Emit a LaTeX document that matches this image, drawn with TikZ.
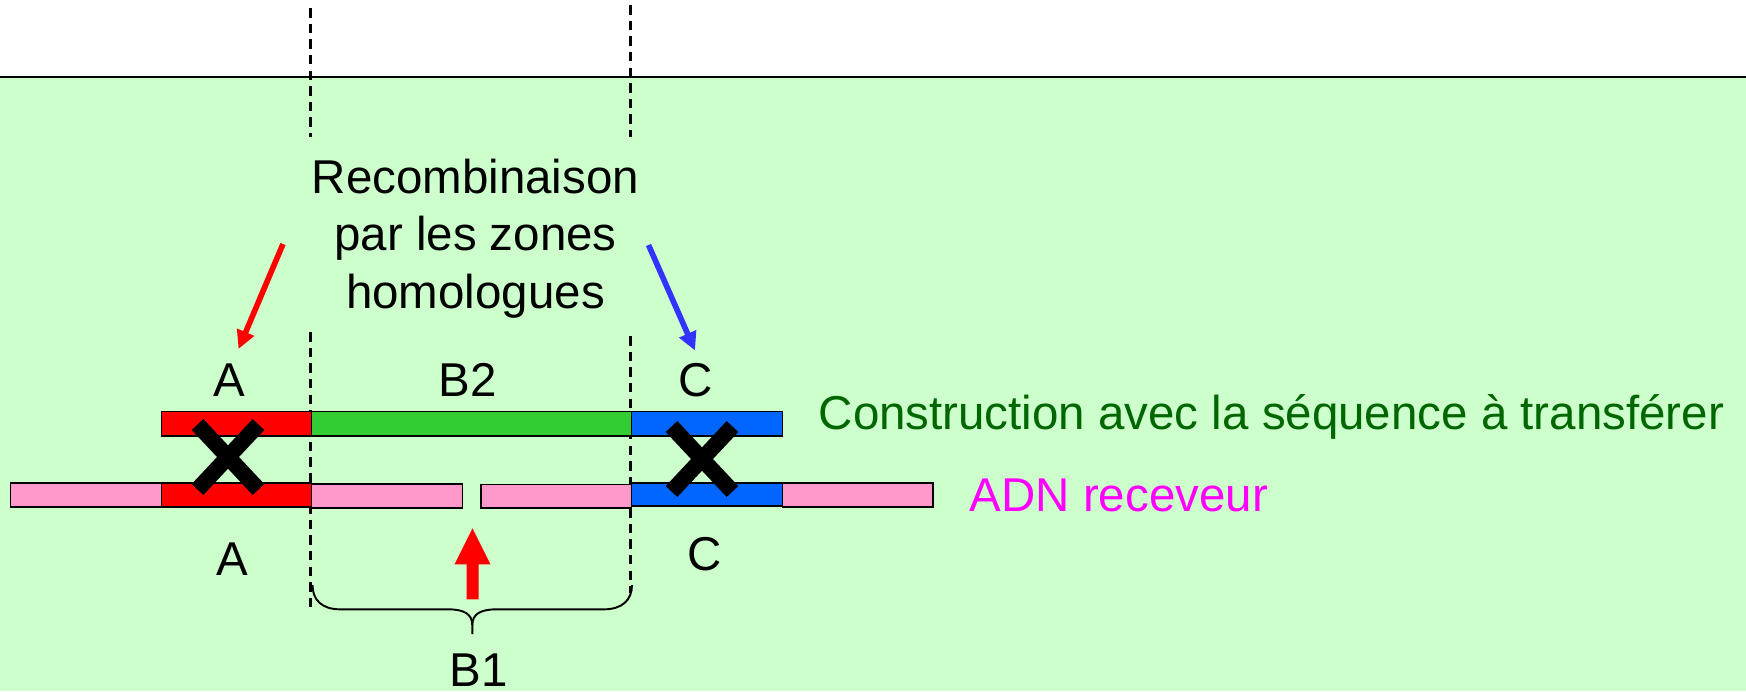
\documentclass[tikz,border=0pt]{standalone}
\usepackage{fontspec}
\setmainfont{Liberation Sans}
\usetikzlibrary{arrows.meta}
\definecolor{bgc}{HTML}{CCFFCC}
\definecolor{redc}{HTML}{FF0000}
\definecolor{greenc}{HTML}{33CC33}
\definecolor{bluec}{HTML}{0066FF}
\definecolor{pinkc}{HTML}{FF99CC}
\definecolor{dgreen}{HTML}{006600}
\definecolor{magc}{HTML}{FF00FF}
\definecolor{barrow}{HTML}{3333FF}
\tikzset{
  lbl/.style={font=\fontsize{13.51pt}{16.36pt}\selectfont, inner sep=0pt, anchor=base},
  bar/.style={draw=black, line width=0.45pt},
  guide/.style={line width=0.6pt, dash pattern=on 2.7pt off 1.75pt},
  cross/.style={line width=4.55pt, line cap=butt},
  thinarrow/.style={line width=1.6pt, -{Triangle[length=5.2pt, width=5pt]}},
}
\begin{document}
\begin{tikzpicture}[x=0.1mm, y=-0.1mm]
\useasboundingbox (0,0) rectangle (1746,691);
% background
\fill[white] (0,0) rectangle (1746,77);
\fill[bgc] (0,77) rectangle (1746,691);
\draw[line width=0.6pt] (0,77) -- (1746,77);

% dashed guides
\draw[guide] (310.5,8) -- (310.5,137);
\draw[guide] (310.5,332) -- (310.5,607);
\draw[guide] (630.5,5) -- (630.5,137);
\draw[guide] (630.5,336) -- (630.5,593);

% top bar (construction)
\filldraw[bar, fill=redc]   (161.6,411.5) rectangle (311.6,435.7);
\filldraw[bar, fill=greenc] (311.6,411.5) rectangle (631.3,435.7);
\filldraw[bar, fill=bluec]  (631.3,411.5) rectangle (782.3,435.7);

% bottom bar (ADN receveur)
\filldraw[bar, fill=pinkc] (10.3,483) rectangle (161.6,507);
\filldraw[bar, fill=redc]  (161.6,483) rectangle (311.6,507);
\filldraw[bar, fill=pinkc] (311.6,484) rectangle (462.5,508);
\filldraw[bar, fill=pinkc] (481,484.5) rectangle (631.3,508);
\filldraw[bar, fill=bluec] (631.3,483) rectangle (782.3,506);
\filldraw[bar, fill=pinkc] (782.3,483) rectangle (932.8,507);

% crosses
\draw[cross] (197.5,424.5) -- (258.5,489.5);
\draw[cross] (258.5,424.5) -- (197.5,489.5);
\draw[cross] (671.5,426.5) -- (732.5,491.5);
\draw[cross] (732.5,426.5) -- (671.5,491.5);

% texts
\node[lbl] (recomb) at (475.5,193.3) {\begin{tabular}[t]{@{}c@{}}Recombinaison\\par les zones\\homologues\end{tabular}};
\node[lbl] (Atop) at (229.7,396) {A};
\node[lbl] (B2) at (468,396) {B2};
\node[lbl] (Ctop) at (696,396) {C};
\node[lbl] (Abot) at (232,575) {A};
\node[lbl] (Cbot) at (705,570) {C};
\node[lbl] (B1) at (479,686) {B1};
\node[lbl, anchor=base west, text=dgreen] (constr) at (818,429.5) {Construction avec la séquence à transférer};
\node[lbl, anchor=base west, text=magc] (adn) at (969,511) {ADN receveur};

% arrows from the text
\coordinate (rs) at (283,244);
\coordinate (re) at (238.5,349);
\coordinate (bs) at (648.5,245);
\coordinate (be) at (695,350.5);
\draw[thinarrow, redc] (rs) -- (re);
\draw[thinarrow, barrow] (bs) -- (be);

% red upward arrow (cut site)
\fill[redc] (466.5,599.3) -- (466.5,564.3) -- (454.5,564.3) -- (472.5,528.3)
  -- (490.5,564.3) -- (478.7,564.3) -- (478.7,599.3) -- cycle;

% brace B1
\draw[line width=0.55pt] (312.5,585) .. controls (312.5,600) and (322,609.3) .. (340,609.3)
  -- (448,609.3) .. controls (464,609.3) and (472.3,614) .. (472.3,625) -- (472.3,634);
\draw[line width=0.55pt] (472.3,625) .. controls (472.3,614) and (480.6,609.3) .. (496.6,609.3)
  -- (604,609.3) .. controls (622,609.3) and (632,600) .. (632,585);
\end{tikzpicture}
\end{document}
